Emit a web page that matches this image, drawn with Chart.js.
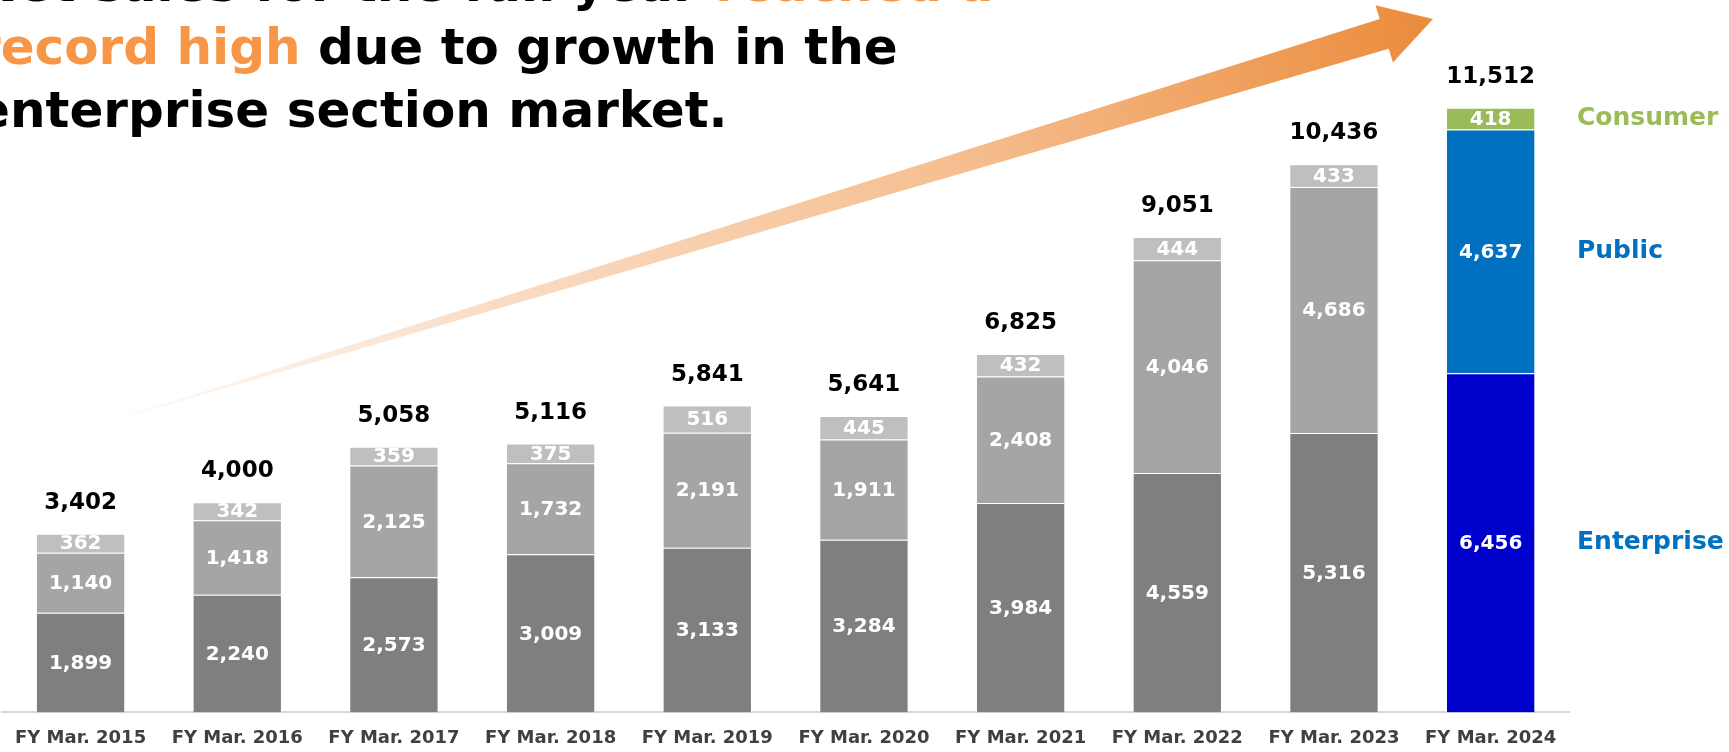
<!DOCTYPE html>
<html>
<head>
<meta charset="utf-8">
<script src="https://cdn.jsdelivr.net/npm/chart.js@4.4.1/dist/chart.umd.min.js"></script>
<style>
  html, body { margin: 0; padding: 0; background: #fff; overflow: hidden; }
  #wrap { position: relative; width: 1729px; height: 752px; overflow: hidden; }
  #salesChart { position: absolute; left: 0; top: 0; }
  #headline {
    position: absolute; left: -24px; top: -47px;
    font: bold 50px "DejaVu Sans", sans-serif; line-height: 63px;
    color: #000; white-space: nowrap; z-index: 2;
  }
  #headline .hl { color: #F79646; }
</style>
</head>
<body>
<div id="wrap">
  <div id="headline">Net sales for the full year <span class="hl">reached a</span><br><span class="hl">record high</span> due to growth in the<br>enterprise section market.</div>
  <canvas id="salesChart" width="1729" height="764"></canvas>
</div>
<script>
// Net sales by market section
const years = ["FY Mar. 2015", "FY Mar. 2016", "FY Mar. 2017", "FY Mar. 2018", "FY Mar. 2019",
               "FY Mar. 2020", "FY Mar. 2021", "FY Mar. 2022", "FY Mar. 2023", "FY Mar. 2024"];
const enterprise = [1899, 2240, 2573, 3009, 3133, 3284, 3984, 4559, 5316, 6456];
const publicSec  = [1140, 1418, 2125, 1732, 2191, 1911, 2408, 4046, 4686, 4637];
const consumer   = [362, 342, 359, 375, 516, 445, 432, 444, 433, 418];
const totals     = [3402, 4000, 5058, 5116, 5841, 5641, 6825, 9051, 10436, 11512];

// grey for past years, colour for the latest one
function colours(past, latest) {
  return years.map((_, i) => i === years.length - 1 ? latest : past);
}

const FONT = "'DejaVu Sans', sans-serif";

// growth arrow behind the bars
const arrowPlugin = {
  id: "arrow",
  beforeDatasetsDraw(chart) {
    const ctx = chart.ctx;
    const tail = { x: 92, y: 427 }, tip = { x: 1433, y: 19 };
    const dx = tip.x - tail.x, dy = tip.y - tail.y;
    const len = Math.hypot(dx, dy);
    const ux = dx / len, uy = dy / len, nx = -uy, ny = ux;
    const headLen = 51, shaft = 15.5, head = 30;
    const bx = tip.x - ux * headLen, by = tip.y - uy * headLen;
    const g = ctx.createLinearGradient(tail.x, tail.y, tip.x, tip.y);
    g.addColorStop(0, "rgba(252,228,210,0.15)");
    g.addColorStop(0.3, "#FADCC4");
    g.addColorStop(0.65, "#F5BE8F");
    g.addColorStop(1, "#EB8B3B");
    ctx.save();
    ctx.fillStyle = g;
    ctx.beginPath();
    ctx.moveTo(tail.x, tail.y);
    ctx.lineTo(bx + nx * shaft, by + ny * shaft);
    ctx.lineTo(bx + nx * head, by + ny * head);
    ctx.lineTo(tip.x, tip.y);
    ctx.lineTo(bx - nx * head, by - ny * head);
    ctx.lineTo(bx - nx * shaft, by - ny * shaft);
    ctx.closePath();
    ctx.fill();
    ctx.restore();
  }
};

// segment values, totals and the section names next to the last bar
const labelPlugin = {
  id: "barLabels",
  afterDatasetsDraw(chart) {
    const ctx = chart.ctx;
    const last = years.length - 1;
    ctx.save();
    ctx.textAlign = "center";
    ctx.textBaseline = "middle";
    chart.data.datasets.forEach((ds, di) => {
      const meta = chart.getDatasetMeta(di);
      meta.data.forEach((bar, i) => {
        const mid = (bar.y + bar.base) / 2;
        ctx.font = "bold 20px " + FONT;
        ctx.fillStyle = "#fff";
        ctx.fillText(ds.data[i].toLocaleString("en-US"), bar.x, mid + 1);
        if (di === chart.data.datasets.length - 1) {
          ctx.font = "bold 23px " + FONT;
          ctx.fillStyle = "#000";
          ctx.fillText(totals[i].toLocaleString("en-US"), bar.x, bar.y - 31);
        }
      });
      const lb = meta.data[last];
      ctx.textAlign = "left";
      ctx.font = "bold 25px " + FONT;
      ctx.fillStyle = ds.sideColor;
      ctx.fillText(ds.label, chart.chartArea.right + 8, (lb.y + lb.base) / 2);
      ctx.textAlign = "center";
    });
    ctx.restore();
  }
};

const ctx = document.getElementById("salesChart").getContext("2d");
const salesChart = new Chart(ctx, {
  type: "bar",
  data: {
    labels: years,
    datasets: [
      {
        label: "Enterprise",
        data: enterprise,
        backgroundColor: colours("#7F7F7F", "#0000CC"),
        sideColor: "#0070C0"
      },
      {
        label: "Public",
        data: publicSec,
        backgroundColor: colours("#A5A5A5", "#0070C0"),
        sideColor: "#0070C0"
      },
      {
        label: "Consumer",
        data: consumer,
        backgroundColor: colours("#BFBFBF", "#9BBB59"),
        sideColor: "#9BBB59"
      }
    ]
  },
  options: {
    responsive: false,
    animation: false,
    layout: { padding: { left: 0, right: 160, top: 0, bottom: 0 } },
    datasets: {
      bar: {
        barPercentage: 0.57,
        categoryPercentage: 1.0,
        borderWidth: 1,
        borderColor: "rgba(255,255,255,0.45)"
      }
    },
    plugins: {
      legend: { display: false },
      tooltip: { enabled: false }
    },
    scales: {
      x: {
        stacked: true,
        grid: { display: false, drawTicks: false },
        border: { display: true, color: "#D9D9D9", width: 2 },
        ticks: {
          color: "#404040",
          padding: 15,
          font: { family: FONT, size: 18, weight: "bold" }
        }
      },
      y: {
        stacked: true,
        display: false,
        min: 0,
        max: 13560
      }
    }
  },
  plugins: [arrowPlugin, labelPlugin]
});
</script>
</body>
</html>
